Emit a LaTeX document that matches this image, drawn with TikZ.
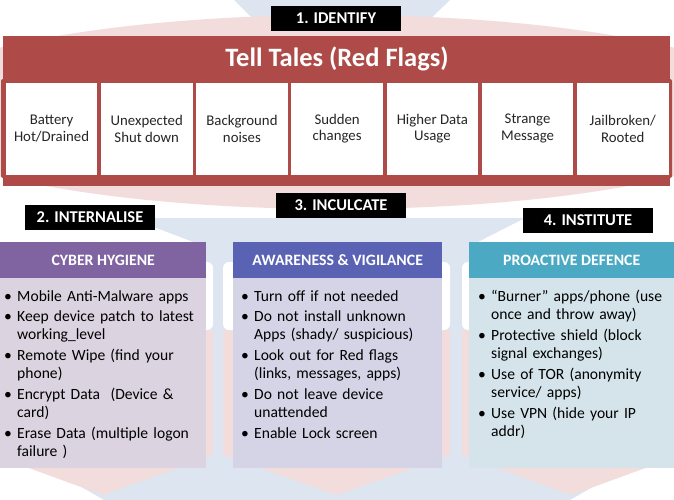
\documentclass[tikz,border=0pt]{standalone}
\usepackage{fontspec}
\setmainfont{Carlito}
\definecolor{bgblue}{HTML}{DCE5F0}
\definecolor{bgpink}{HTML}{F3DCDC}
\definecolor{banred}{HTML}{AE4B48}
\definecolor{celltext}{HTML}{262626}
\definecolor{hdrA}{HTML}{8064A2}
\definecolor{hdrB}{HTML}{5A63B3}
\definecolor{hdrC}{HTML}{4BA9C4}
\definecolor{bodyA}{HTML}{DCD3E0}
\definecolor{bodyB}{HTML}{D5D4E6}
\definecolor{bodyC}{HTML}{D4E4EA}
\newcommand{\bitem}[1]{\par\noindent\makebox[13pt][l]{\strut\textbullet}\parbox[t]{192pt}{\raggedright\strut #1\strut}}
\begin{document}
\begin{tikzpicture}[x=1pt,y=-1pt,
  lbl/.style={fill=black,text=white,font=\bfseries\fontsize{16.5}{19}\selectfont,minimum width=130pt,minimum height=25pt,inner sep=0pt},
  cell/.style={fill=white,minimum width=91.7pt,minimum height=92pt,inner sep=0pt,align=center,text=celltext,font=\fontsize{14.8}{16.5}\selectfont,anchor=north west},
  hdr/.style={minimum height=36pt,inner sep=0pt,anchor=north west,text=white,font=\bfseries\fontsize{15.8}{18}\selectfont},
  bodyrect/.style={inner sep=0pt,anchor=north west},
  blist/.style={anchor=north west,inner sep=0pt,text width=205pt,align=left,font=\fontsize{15.6}{18}\selectfont,text=black}
]
\useasboundingbox (0,0) rectangle (674,500);
\fill[white] (0,0) rectangle (674,500);
% background shapes
\fill[bgblue] (234,0) -- (450,0) -- (425,24) -- (258,24) -- cycle;
\fill[bgpink] (337,112) ellipse [x radius=450pt, y radius=97pt];
\fill[bgblue] (130,218) -- (525,218) -- (470,246) -- (674,440) -- (570,500) -- (104,500) -- (0,440) -- (204,246) -- cycle;
% pillars behind the columns
\foreach \l/\r in {-7/213, 223/450, 462/681}{
  \fill[bgpink] (\l,330) -- (\r,330) -- (\r,455) -- ({(\l+\r)/2},495) -- (\l,455) -- cycle;
  \fill[white, rounded corners=6pt] (\l,262) rectangle (\r,330);
}
% banner
\fill[banred] (3,36) rectangle (670,186);
\fill[banred, rounded corners=2pt] (1,79) rectangle (672,178);
\node[text=white,font=\bfseries\fontsize{26.5}{30}\selectfont] (title) at (337,59) {Tell Tales (Red Flags)};
\node[cell] (c1) at (5.5,82.5) {Battery\\Hot/Drained};
\node[cell] (c2) at (100.7,82.5) {Unexpected\\Shut down};
\node[cell] (c3) at (195.9,82.5) {Background\\noises};
\node[cell] (c4) at (291.1,82.5) {Sudden\\changes};
\node[cell] (c5) at (386.3,82.5) {Higher Data\\Usage};
\node[cell] (c6) at (481.5,82.5) {Strange\\Message};
\node[cell] (c7) at (576.7,82.5) {Jailbroken/\\Rooted};
% labels
\node[lbl] (l1) at (336,18.5) {1. IDENTIFY};
\node[lbl] (l2) at (90,217) {2. INTERNALISE};
\node[lbl] (l3) at (341,205.5) {3. INCULCATE};
\node[lbl] (l4) at (588,220) {4. INSTITUTE};
% column boxes
\node[bodyrect,fill=bodyA,minimum width=206pt,minimum height=190pt] (bA) at (0,278) {};
\node[bodyrect,fill=bodyB,minimum width=209pt,minimum height=190pt] (bB) at (233,278) {};
\node[bodyrect,fill=bodyC,minimum width=205pt,minimum height=190pt] (bC) at (469,278) {};
\node[hdr,fill=hdrA,minimum width=206pt] (hA) at (0,242) {CYBER HYGIENE};
\node[hdr,fill=hdrB,minimum width=209pt] (hB) at (233,242) {AWARENESS \& VIGILANCE};
\node[hdr,fill=hdrC,minimum width=205pt] (hC) at (469,242) {PROACTIVE DEFENCE};
% lists
\node[blist] (tA) at (4,281) {\setlength{\parskip}{2pt}%
  \bitem{Mobile Anti-Malware apps}
  \bitem{Keep device patch to latest\\working\_level}
  \bitem{Remote Wipe (find your\\phone)}
  \bitem{Encrypt Data\ \ (Device \&\\card)}
  \bitem{Erase Data (multiple logon\\failure )}};
\node[blist] (tB) at (241,281) {\setlength{\parskip}{2pt}%
  \bitem{Turn off if not needed}
  \bitem{Do not install unknown\\Apps (shady/ suspicious)}
  \bitem{Look out for Red flags\\(links, messages, apps)}
  \bitem{Do not leave device\\unattended}
  \bitem{Enable Lock screen}};
\node[blist] (tC) at (478,281) {\setlength{\parskip}{2pt}%
  \bitem{“Burner” apps/phone (use\\once and throw away)}
  \bitem{Protective shield (block\\signal exchanges)}
  \bitem{Use of TOR (anonymity\\service/ apps)}
  \bitem{Use VPN (hide your IP\\addr)}};
\end{tikzpicture}
\end{document}
